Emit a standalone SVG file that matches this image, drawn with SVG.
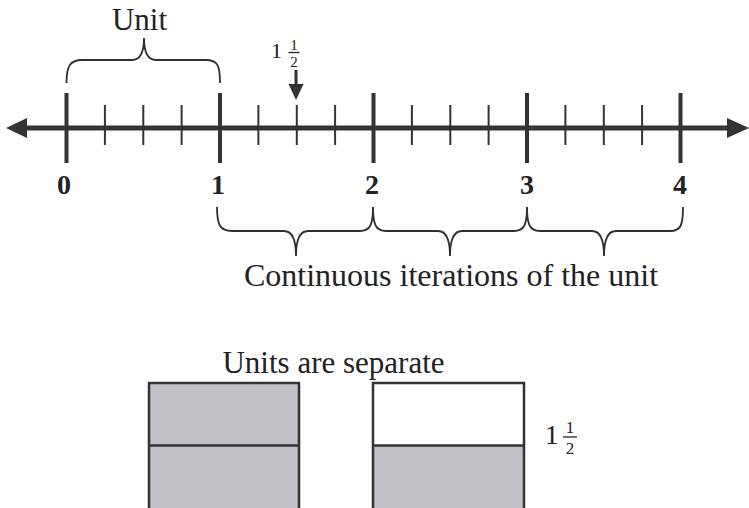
<svg xmlns="http://www.w3.org/2000/svg" width="749" height="508" viewBox="0 0 749 508">
<style>
  .axis { stroke: #333; stroke-width: 5; }
  .major { stroke: #333; stroke-width: 4; }
  .minor { stroke: #333; stroke-width: 2; }
  .brace { stroke: #2f2f2f; stroke-width: 1.8; fill: none; }
  .head { fill: #333; }
  .t { font-family: "Liberation Serif", "Times New Roman", serif; fill: #222; }
  .num { font-family: "Liberation Serif", "Times New Roman", serif; font-weight: bold; font-size: 28px; fill: #222; text-anchor: middle; }
  .box { stroke: #333; stroke-width: 2.5; }
  .gray { fill: #c0c1c5; }
  .bar { stroke: #222; stroke-width: 1.3; }
</style>
<rect width="749" height="508" fill="#ffffff"/>

<g id="number-line">
  <line class="axis" x1="20" y1="128" x2="737" y2="128"/>
  <polygon class="head" points="6,128 27,118 27,138"/>
  <polygon class="head" points="749,128 727,118 727,138"/>
  <g id="major-ticks">
    <line class="major" x1="66.5" y1="93" x2="66.5" y2="163"/>
    <line class="major" x1="220" y1="93" x2="220" y2="163"/>
    <line class="major" x1="373.5" y1="93" x2="373.5" y2="163"/>
    <line class="major" x1="527" y1="93" x2="527" y2="163"/>
    <line class="major" x1="680.5" y1="93" x2="680.5" y2="163"/>
  </g>
  <g id="minor-ticks">
    <line class="minor" x1="104.9" y1="105" x2="104.9" y2="145"/>
    <line class="minor" x1="143.3" y1="105" x2="143.3" y2="145"/>
    <line class="minor" x1="181.6" y1="105" x2="181.6" y2="145"/>
    <line class="minor" x1="258.4" y1="105" x2="258.4" y2="145"/>
    <line class="minor" x1="296.8" y1="105" x2="296.8" y2="145"/>
    <line class="minor" x1="335.1" y1="105" x2="335.1" y2="145"/>
    <line class="minor" x1="411.9" y1="105" x2="411.9" y2="145"/>
    <line class="minor" x1="450.3" y1="105" x2="450.3" y2="145"/>
    <line class="minor" x1="488.6" y1="105" x2="488.6" y2="145"/>
    <line class="minor" x1="565.4" y1="105" x2="565.4" y2="145"/>
    <line class="minor" x1="603.8" y1="105" x2="603.8" y2="145"/>
    <line class="minor" x1="642.1" y1="105" x2="642.1" y2="145"/>
  </g>
  <g id="tick-labels">
    <text class="num" x="64" y="194">0</text>
    <text class="num" x="218" y="194">1</text>
    <text class="num" x="372" y="194">2</text>
    <text class="num" x="527" y="194">3</text>
    <text class="num" x="680" y="194">4</text>
  </g>
</g>

<g id="unit-brace">
  <path class="brace" d="M66.5,83 C66.5,66 70,60 82,60 L132,60 C140,60 144,52 144,38 C144,52 148,60 156,60 L206,60 C218,60 220,66 220,83"/>
  <text class="t" x="139.5" y="30" font-size="31" text-anchor="middle">Unit</text>
</g>

<g id="marker-one-half">
  <text class="t" x="271" y="58" font-size="22">1</text>
  <text class="t" x="294" y="49.5" font-size="15" text-anchor="middle">1</text>
  <line class="bar" x1="288.5" y1="52.5" x2="299.5" y2="52.5"/>
  <text class="t" x="294" y="66.5" font-size="15" text-anchor="middle">2</text>
  <line x1="296" y1="70" x2="296" y2="86" stroke="#333" stroke-width="3"/>
  <polygon class="head" points="288.5,84 303.5,84 296,100"/>
</g>

<g id="iteration-braces">
  <path class="brace" d="M217,207 C217,225 220,231 232,231 L284,231 C292,231 296,238 296,256 C296,238 300,231 308,231 L360,231 C370,231 373,225 373,207"/>
  <path class="brace" d="M373,207 C373,225 376,231 386,231 L438,231 C446,231 450,238 450,256 C450,238 454,231 462,231 L514,231 C524,231 527,225 527,207"/>
  <path class="brace" d="M527,207 C527,225 530,231 540,231 L592,231 C600,231 604,238 604,256 C604,238 608,231 616,231 L670,231 C681,231 683,225 683,207"/>
  <text class="t" x="451" y="286" font-size="32" text-anchor="middle">Continuous iterations of the unit</text>
</g>

<g id="separate-units">
  <text class="t" x="333.5" y="373" font-size="31" text-anchor="middle">Units are separate</text>
  <g id="box-left">
    <rect class="box gray" x="149" y="383" width="150" height="135"/>
    <line class="box" x1="149" y1="445.5" x2="299" y2="445.5"/>
  </g>
  <g id="box-right">
    <rect fill="#ffffff" x="373" y="383" width="151" height="62.5"/>
    <rect class="gray" x="373" y="445.5" width="151" height="72.5"/>
    <rect class="box" fill="none" x="373" y="383" width="151" height="135"/>
    <line class="box" x1="373" y1="445.5" x2="524" y2="445.5"/>
  </g>
  <g id="label-one-half">
    <text class="t" x="545" y="444" font-size="27">1</text>
    <text class="t" x="570" y="433" font-size="17" text-anchor="middle">1</text>
    <line class="bar" x1="563" y1="437" x2="577" y2="437"/>
    <text class="t" x="570" y="453.5" font-size="17" text-anchor="middle">2</text>
  </g>
</g>
</svg>
